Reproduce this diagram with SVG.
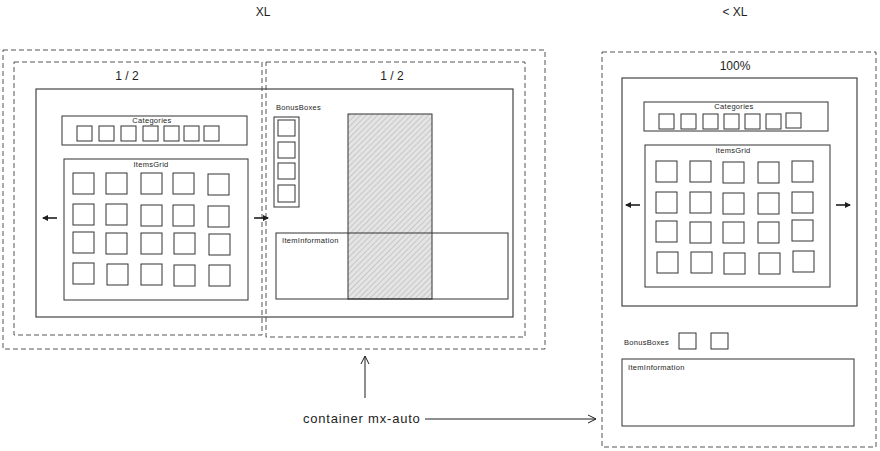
<svg xmlns="http://www.w3.org/2000/svg" width="880" height="451" viewBox="0 0 880 451">
<style>
text{font-family:"Liberation Sans","DejaVu Sans",sans-serif;fill:#1e1e1e}
.dash{fill:none;stroke:#555;stroke-width:1;stroke-dasharray:5 3}
.box{fill:none;stroke:#333;stroke-width:1}
.frame{fill:none;stroke:#444;stroke-width:1.2}
.sq{fill:none;stroke:#333;stroke-width:1}
.lbl{font-size:7.5px;letter-spacing:0.3px}
.hd{font-size:12px}
.conn{stroke:#1e1e1e;stroke-width:1;fill:none}
.tiny{stroke:#1e1e1e;stroke-width:1.6;fill:none}
</style>
<defs>
<pattern id="hatch" width="4" height="4" patternUnits="userSpaceOnUse" patternTransform="rotate(45)">
<rect width="4" height="4" fill="#e4e4e4"/>
<line x1="0" y1="0" x2="0" y2="4" stroke="#9a9a9a" stroke-width="0.8"/>
</pattern>
<marker id="ah" markerWidth="10" markerHeight="10" refX="9" refY="5" orient="auto" markerUnits="userSpaceOnUse">
<path d="M1,1 L9,5 L1,9" fill="none" stroke="#1e1e1e" stroke-width="1"/>
</marker>
<marker id="sah" markerWidth="6" markerHeight="6" refX="5" refY="3" orient="auto" markerUnits="userSpaceOnUse">
<path d="M0,0 L6,3 L0,6 z" fill="#1e1e1e"/>
</marker>
</defs>

<text class="hd" x="263" y="16" text-anchor="middle">XL</text>
<text class="hd" x="735" y="16" text-anchor="middle">&lt; XL</text>

<g id="xl-container">
<rect class="dash" x="3" y="50" width="542" height="299"/>
</g>
<g id="half-left">
<rect class="dash" x="14" y="62" width="248" height="273"/>
<text class="hd" x="127" y="80" text-anchor="middle">1 / 2</text>
</g>
<g id="half-right">
<rect class="dash" x="266" y="62" width="259" height="275"/>
<text class="hd" x="392" y="80" text-anchor="middle">1 / 2</text>
</g>
<g id="xl-frame">
<rect class="frame" x="36" y="89" width="477" height="228"/>
</g>

<g id="xl-categories">
<rect class="box" x="62" y="116" width="185" height="29"/>
<text class="lbl" x="152" y="123" text-anchor="middle">Categories</text>
<rect class="sq" x="77" y="126" width="15" height="15"/>
<rect class="sq" x="99" y="126" width="15" height="15"/>
<rect class="sq" x="121" y="126" width="15" height="15"/>
<rect class="sq" x="143" y="126" width="15" height="15"/>
<rect class="sq" x="164" y="126" width="15" height="15"/>
<rect class="sq" x="184" y="126" width="15" height="15"/>
<rect class="sq" x="204" y="126" width="15" height="15"/>
</g>

<g id="xl-itemsgrid">
<rect class="box" x="64" y="159" width="184" height="141"/>
<text class="lbl" x="151" y="167" text-anchor="middle">ItemsGrid</text>
<g>
<rect class="sq" x="73" y="173" width="21" height="21"/><rect class="sq" x="106" y="173" width="21" height="21"/><rect class="sq" x="141" y="173" width="21" height="21"/><rect class="sq" x="173" y="173" width="21" height="21"/><rect class="sq" x="208" y="174" width="21" height="21"/>
<rect class="sq" x="73" y="204" width="21" height="21"/><rect class="sq" x="106" y="204" width="21" height="21"/><rect class="sq" x="141" y="205" width="21" height="21"/><rect class="sq" x="173" y="205" width="21" height="21"/><rect class="sq" x="208" y="206" width="21" height="21"/>
<rect class="sq" x="73" y="232" width="21" height="21"/><rect class="sq" x="106" y="233" width="21" height="21"/><rect class="sq" x="141" y="233" width="21" height="21"/><rect class="sq" x="174" y="233" width="21" height="21"/><rect class="sq" x="209" y="234" width="21" height="21"/>
<rect class="sq" x="73" y="263" width="21" height="21"/><rect class="sq" x="107" y="264" width="21" height="21"/><rect class="sq" x="141" y="264" width="21" height="21"/><rect class="sq" x="174" y="265" width="21" height="21"/><rect class="sq" x="209" y="265" width="21" height="21"/>
</g>
</g>

<g id="xl-bonusboxes">
<text class="lbl" x="276" y="110">BonusBoxes</text>
<rect class="box" x="274" y="117" width="25" height="90"/>
<rect class="sq" x="278" y="120" width="17" height="16"/>
<rect class="sq" x="278" y="142" width="17" height="16"/>
<rect class="sq" x="278" y="163" width="17" height="16"/>
<rect class="sq" x="278" y="185" width="17" height="17"/>
</g>

<g id="xl-hatched">
<rect x="348" y="114" width="84" height="185" fill="url(#hatch)" stroke="#333" stroke-width="1"/>
</g>

<g id="xl-iteminformation">
<rect class="box" x="276" y="233" width="232" height="66"/>
<text class="lbl" x="282" y="243">ItemInformation</text>
</g>

<g id="lt-container">
<rect class="dash" x="602" y="52" width="274" height="395"/>
<text class="hd" x="735" y="70" text-anchor="middle">100%</text>
</g>
<g id="lt-frame">
<rect class="frame" x="622" y="78" width="235" height="228"/>
</g>
<g id="lt-categories">
<rect class="box" x="644" y="102" width="184" height="29"/>
<text class="lbl" x="734" y="109" text-anchor="middle">Categories</text>
<rect class="sq" x="659" y="114" width="15" height="15"/>
<rect class="sq" x="681" y="114" width="15" height="15"/>
<rect class="sq" x="703" y="114" width="15" height="15"/>
<rect class="sq" x="724" y="114" width="15" height="15"/>
<rect class="sq" x="745" y="114" width="15" height="15"/>
<rect class="sq" x="766" y="114" width="15" height="15"/>
<rect class="sq" x="786" y="113" width="15" height="15"/>
</g>
<g id="lt-itemsgrid">
<rect class="box" x="645" y="145" width="185" height="142"/>
<text class="lbl" x="733" y="153" text-anchor="middle">ItemsGrid</text>
<g>
<rect class="sq" x="656" y="161" width="21" height="21"/><rect class="sq" x="690" y="161" width="21" height="21"/><rect class="sq" x="723" y="162" width="21" height="21"/><rect class="sq" x="758" y="162" width="21" height="21"/><rect class="sq" x="792" y="161" width="21" height="21"/>
<rect class="sq" x="656" y="192" width="21" height="21"/><rect class="sq" x="690" y="192" width="21" height="21"/><rect class="sq" x="723" y="193" width="21" height="21"/><rect class="sq" x="758" y="193" width="21" height="21"/><rect class="sq" x="792" y="192" width="21" height="21"/>
<rect class="sq" x="656" y="221" width="21" height="21"/><rect class="sq" x="690" y="222" width="21" height="21"/><rect class="sq" x="723" y="222" width="21" height="21"/><rect class="sq" x="758" y="222" width="21" height="21"/><rect class="sq" x="792" y="220" width="21" height="21"/>
<rect class="sq" x="657" y="252" width="21" height="21"/><rect class="sq" x="691" y="252" width="21" height="21"/><rect class="sq" x="724" y="253" width="21" height="21"/><rect class="sq" x="759" y="253" width="21" height="21"/><rect class="sq" x="793" y="251" width="21" height="21"/>
</g>
</g>
<g id="lt-bonusboxes">
<text class="lbl" x="624" y="345">BonusBoxes</text>
<rect class="sq" x="679" y="333" width="17" height="16"/>
<rect class="sq" x="711" y="333" width="17" height="16"/>
</g>
<g id="lt-iteminformation">
<rect class="box" x="622" y="359" width="232" height="67"/>
<text class="lbl" x="628" y="370">ItemInformation</text>
</g>

<g id="label-container">
<text x="303" y="423" font-size="13" letter-spacing="0.8">container mx-auto</text>
</g>

<g id="connectors">
<line class="tiny" x1="57" y1="218" x2="43" y2="218" marker-end="url(#sah)"/>
<line class="tiny" x1="254" y1="218" x2="268" y2="218" marker-end="url(#sah)"/>
<line class="tiny" x1="640" y1="205" x2="626" y2="205" marker-end="url(#sah)"/>
<line class="tiny" x1="836" y1="205" x2="850" y2="205" marker-end="url(#sah)"/>
<line class="conn" x1="365" y1="398" x2="365" y2="356" marker-end="url(#ah)"/>
<line class="conn" x1="425" y1="419" x2="596" y2="419" marker-end="url(#ah)"/>
</g>
</svg>
